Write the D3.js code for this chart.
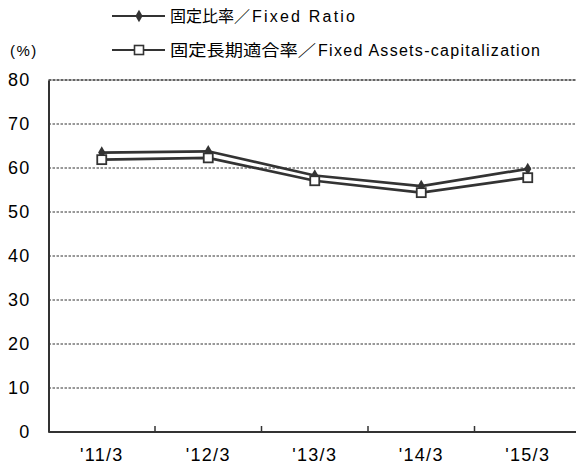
<!DOCTYPE html>
<html>
<head>
<meta charset="utf-8">
<script src="https://cdn.jsdelivr.net/npm/d3@7"></script>
<style>
  body { margin: 0; background: #fff; }
  svg { display: block; }
</style>
</head>
<body>
<div id="chart"></div>
<script>
// data
var categories = ["'11/3", "'12/3", "'13/3", "'14/3", "'15/3"];
var fixedRatio = [63.5, 63.8, 58.3, 55.9, 59.8];
var fixedAssetsCap = [61.9, 62.3, 57.1, 54.4, 57.8];
var yTicks = [0, 10, 20, 30, 40, 50, 60, 70, 80];
var legendJa = ["固定比率／", "固定長期適合率／"];
var legendEn = ["Fixed Ratio", "Fixed Assets-capitalization"];

var svgWidth = 576;
var svgHeight = 466;
var margin = { top: 80, right: -5, bottom: 34, left: 48.5 };
var width = svgWidth - margin.left - margin.right;
var height = svgHeight - margin.top - margin.bottom;
var ink = "#333";
var font = "'Liberation Sans', Arial, sans-serif";

var svg = d3.select("#chart").append("svg")
  .attr("width", svgWidth)
  .attr("height", svgHeight);

var chartGroup = svg.append("g")
  .attr("transform", `translate(${margin.left}, ${margin.top})`);

var xScale = d3.scaleBand().domain(categories).range([0, width]);
var yScale = d3.scaleLinear().domain([0, 80]).range([height, 0]);

// gridlines (dotted)
chartGroup.selectAll(".grid")
  .data(yTicks.filter(d => d > 0))
  .enter().append("line")
  .attr("x1", 0).attr("x2", width)
  .attr("y1", d => yScale(d)).attr("y2", d => yScale(d))
  .attr("stroke", ink)
  .attr("stroke-width", d => d === 80 ? 1.4 : 1)
  .attr("stroke-dasharray", d => d === 80 ? "3,1" : "2.5,1.5");

// y axis
var leftAxis = d3.axisLeft(yScale).tickValues(yTicks).tickSize(0).tickPadding(18);
var yAxis = chartGroup.append("g").call(leftAxis);
yAxis.select(".domain").attr("stroke", ink).attr("stroke-width", 2);
yAxis.selectAll("text")
  .attr("font-family", font).attr("font-size", 18)
  .attr("letter-spacing", 1.2).attr("fill", "#000");

// x axis with inward ticks at category boundaries
chartGroup.append("line")
  .attr("x1", 0).attr("x2", width)
  .attr("y1", height).attr("y2", height)
  .attr("stroke", ink).attr("stroke-width", 2);
chartGroup.selectAll(".xtick")
  .data(categories.slice(1))
  .enter().append("line")
  .attr("x1", d => xScale(d)).attr("x2", d => xScale(d))
  .attr("y1", height).attr("y2", height - 6)
  .attr("stroke", ink).attr("stroke-width", 1.5);
chartGroup.selectAll(".xlabel")
  .data(categories)
  .enter().append("text")
  .attr("x", d => xScale(d) + xScale.bandwidth() / 2)
  .attr("y", height + 29)
  .attr("text-anchor", "middle")
  .attr("font-family", font).attr("font-size", 18)
  .attr("letter-spacing", 1.3)
  .text(d => d);

// lines
var line = d3.line()
  .x((d, i) => xScale(categories[i]) + xScale.bandwidth() / 2)
  .y(d => yScale(d));

[fixedRatio, fixedAssetsCap].forEach(function(series) {
  chartGroup.append("path")
    .datum(series)
    .attr("d", line)
    .attr("fill", "none")
    .attr("stroke", ink)
    .attr("stroke-width", 2.7);
});

var diamond = d3.symbol().type(d3.symbolDiamond).size(45);

// markers
chartGroup.selectAll(".dia")
  .data(fixedRatio)
  .enter().append("path")
  .attr("d", diamond)
  .attr("transform", (d, i) => `translate(${xScale(categories[i]) + xScale.bandwidth() / 2}, ${yScale(d)})`)
  .attr("fill", ink);

chartGroup.selectAll(".sq")
  .data(fixedAssetsCap)
  .enter().append("rect")
  .attr("x", (d, i) => xScale(categories[i]) + xScale.bandwidth() / 2 - 4.5)
  .attr("y", d => yScale(d) - 4.5)
  .attr("width", 9).attr("height", 9)
  .attr("fill", "#fff")
  .attr("stroke", ink)
  .attr("stroke-width", 1.8);

// legend: japanese part and english part fitted separately
var legend = svg.append("g");
var legendY = [16, 50];
var jaLen = [80, 146];
var enX = [252, 318];
var enLen = [103, 222];
legendJa.forEach(function(label, i) {
  var g = legend.append("g").attr("transform", `translate(112, ${legendY[i]})`);
  g.append("line")
    .attr("x1", 0).attr("x2", 53).attr("y1", 0).attr("y2", 0)
    .attr("stroke", ink).attr("stroke-width", 2);
  if (i === 0) {
    g.append("path").attr("d", diamond).attr("transform", "translate(27,0)").attr("fill", ink);
  } else {
    g.append("rect").attr("x", 22.5).attr("y", -4.5).attr("width", 9).attr("height", 9)
      .attr("fill", "#fff").attr("stroke", ink).attr("stroke-width", 1.6);
  }
  g.append("text")
    .attr("x", 58).attr("y", 6)
    .attr("font-family", "'Noto Sans CJK JP', sans-serif")
    .attr("font-size", 16)
    .attr("textLength", jaLen[i])
    .attr("lengthAdjust", "spacingAndGlyphs")
    .text(label);
  g.append("text")
    .attr("x", enX[i] - 112).attr("y", 6)
    .attr("font-family", font)
    .attr("font-size", 16)
    .attr("textLength", enLen[i])
    .attr("lengthAdjust", "spacing")
    .text(legendEn[i]);
});

// unit label
svg.append("text")
  .attr("x", 10).attr("y", 56)
  .attr("font-family", font).attr("font-size", 15)
  .attr("letter-spacing", 1.5)
  .text("(%)");
</script>
</body>
</html>
